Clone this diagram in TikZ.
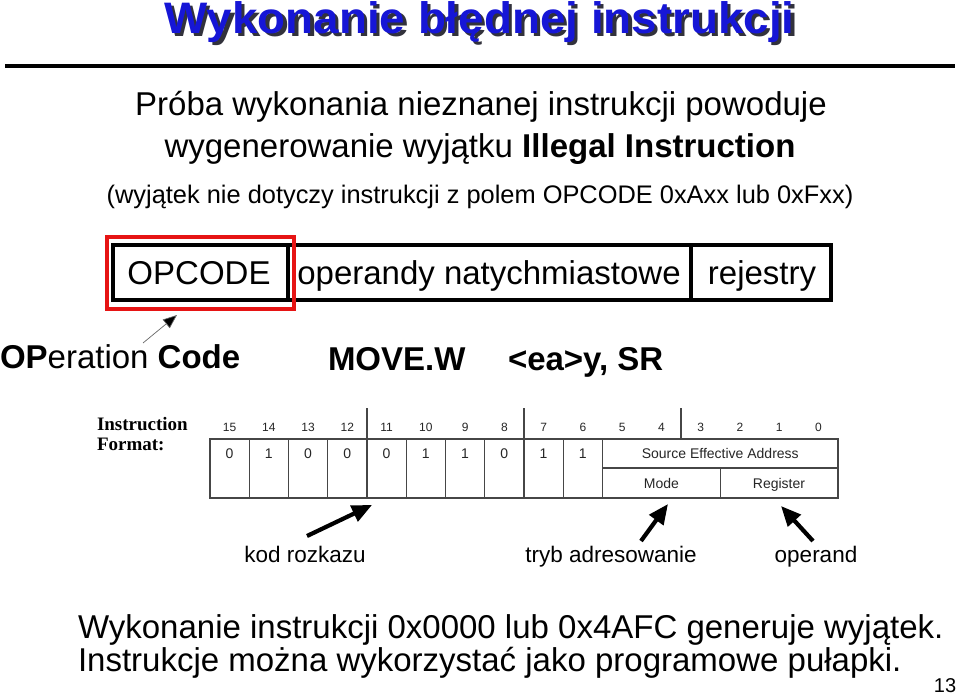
\documentclass[tikz,border=0pt]{standalone}
\usepackage{fontspec}
\setmainfont{Liberation Sans}
\newfontfamily\serifbold{Liberation Serif}
\usetikzlibrary{arrows.meta}
\definecolor{titleblue}{RGB}{22,22,214}
\definecolor{shadowgray}{RGB}{50,50,60}
\definecolor{boxred}{RGB}{230,20,20}
\definecolor{tblgray}{RGB}{70,70,70}
\newcommand{\shadowtitle}[1]{\rlap{\kern3pt\raisebox{-3pt}{\textcolor{shadowgray}{#1}}}\textcolor{titleblue}{#1}}
\begin{document}
\begin{tikzpicture}[x=1pt,y=-1pt,
  every node/.style={inner sep=0pt, outer sep=0pt},
  bl/.style={anchor=base},
  bigtxt/.style={font=\fontsize{33}{38}\selectfont},
  midtxt/.style={font=\fontsize{25.4}{30}\selectfont},
  lbltxt/.style={font=\fontsize{22.5}{26}\selectfont},
  bitnum/.style={anchor=base, font=\fontsize{12}{14}\selectfont, text=black!85},
  celltxt/.style={anchor=base, font=\fontsize{14}{16}\selectfont, text=black!85},
  tbl/.style={draw=tblgray, line width=1.3pt},
  fatarrow/.style={line width=4.2pt, -{Triangle[length=20pt,width=17pt]}},
  thinarrow/.style={draw=black!60, line width=0.7pt, -{Triangle[length=14pt,width=11pt,fill=black]}}
]
\useasboundingbox (0,0) rectangle (959,695);
\fill[white] (0,0) rectangle (959,695);

% title
\node[bl, font=\fontsize{42}{46}\selectfont\bfseries, xscale=1.09, yscale=1.05] (title) at (479.5,33.5) {\shadowtitle{Wykonanie błędnej instrukcji}};
\draw[line width=4pt] (5,66) -- (955,66);

% intro text
\node[bl, bigtxt] (l1) at (481,116) {Próba wykonania nieznanej instrukcji powoduje};
\node[bl, bigtxt] (l2) at (480,158) {wygenerowanie wyjątku \textbf{Illegal Instruction}};
\node[bl, midtxt] (l3) at (480,204) {(wyjątek nie dotyczy instrukcji z polem OPCODE 0xAxx lub 0xFxx)};

% format box
\draw[line width=4pt] (113,245) rectangle (831,300);
\draw[line width=4pt] (288,245) -- (288,300);
\draw[line width=4pt] (691,245) -- (691,300);
\node[bl, bigtxt] (opc) at (199,284) {OPCODE};
\node[bl, bigtxt] (opn) at (489,284) {operandy natychmiastowe};
\node[bl, bigtxt] (rej) at (762,284) {rejestry};
\draw[boxred, line width=4pt] (107,237) rectangle (294,309);
\coordinate (redbot) at (177,315);

% opcode explanation
\node[bl, bigtxt, anchor=base west] (opname) at (0,368) {\textbf{OP}eration \textbf{Code}};
\coordinate (optail) at (143,343);
\draw[thinarrow] (optail) -- (redbot);
\node[bl, bigtxt, anchor=base west] (move) at (328,370) {\textbf{MOVE.W}};
\node[bl, bigtxt, anchor=base west] (ea) at (508,370) {\textbf{<ea>y, SR}};

% instruction format table
\node[anchor=base west, font=\serifbold\fontsize{19}{21}\selectfont\bfseries] (if1) at (97,430) {Instruction};
\node[anchor=base west, font=\serifbold\fontsize{19}{21}\selectfont\bfseries] (if2) at (97,450) {Format:};
\foreach \k in {0,...,15}{
  \pgfmathtruncatemacro{\bit}{15-\k}
  \node[bitnum] (b\bit) at ({210+39.25*(\k+0.5)},431.5) {\bit};
}
\draw[tbl] (210,439) rectangle (838,498);
\foreach \k in {1,...,10}{ \draw[tbl] ({210+39.25*\k},439) -- ({210+39.25*\k},498); }
\foreach \k in {4,8,12}{ \draw[tbl] ({210+39.25*\k},408) -- ({210+39.25*\k},439); }
\draw[tbl] (602.5,468) -- (838,468);
\draw[tbl] (720.25,468) -- (720.25,498);
\foreach \v [count=\k from 0] in {0,1,0,0,0,1,1,0,1,1}{
  \node[celltxt] (c\k) at ({210+39.25*(\k+0.5)},458) {\v};
}
\node[celltxt] (sea) at (720.25,458) {Source Effective Address};
\node[celltxt] (mode) at (661.4,488) {Mode};
\node[celltxt] (reg) at (779,488) {Register};

% arrows and labels
\node[bl, lbltxt] (kod) at (305,562) {kod rozkazu};
\node[bl, lbltxt] (tryb) at (611,562) {tryb adresowanie};
\node[bl, lbltxt] (oper) at (816,562) {operand};
\coordinate (kt) at (307,536); \coordinate (kh) at (372,505);
\coordinate (tt) at (641,541); \coordinate (th) at (668,504);
\coordinate (ot) at (813,541); \coordinate (oh) at (781,506);
\draw[fatarrow] (kt) -- (kh);
\draw[fatarrow] (tt) -- (th);
\draw[fatarrow] (ot) -- (oh);

% bottom text
\node[bigtxt, anchor=base west] (w1) at (78,638) {Wykonanie instrukcji 0x0000 lub 0x4AFC generuje wyjątek.};
\node[bigtxt, anchor=base west] (w2) at (78,671) {Instrukcje można wykorzystać jako programowe pułapki.};
\node[font=\fontsize{20}{22}\selectfont, anchor=base] (pg) at (945,692) {13};
\end{tikzpicture}
\end{document}
